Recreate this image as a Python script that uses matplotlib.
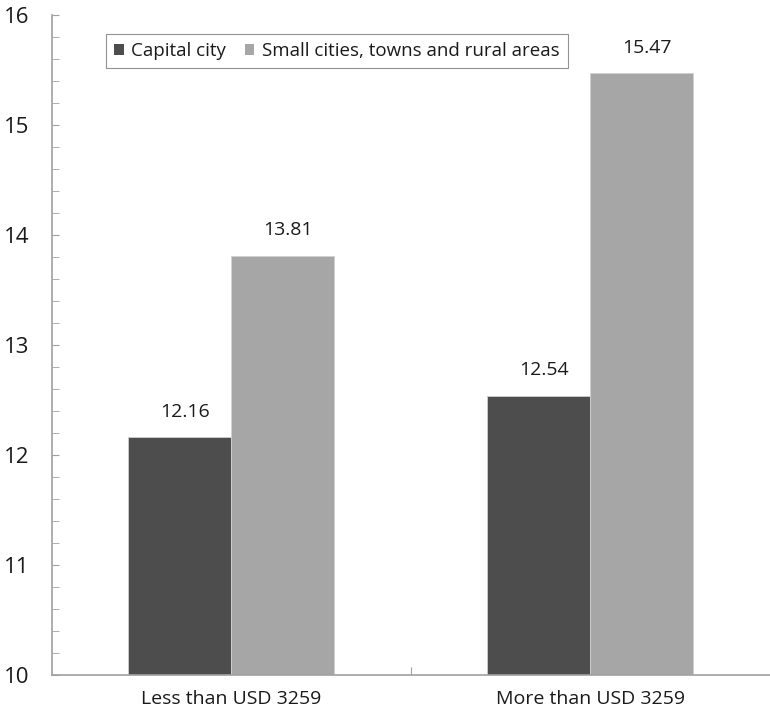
import matplotlib
matplotlib.use('Agg')
import matplotlib.pyplot as plt
from matplotlib.ticker import MultipleLocator, FixedLocator, NullFormatter

plt.rcParams['font.family'] = ['Open Sans', 'DejaVu Sans']

# Income groups and mean values by place of residence
groups = ['Less than USD 3259', 'More than USD 3259']
series_names = ['Capital city', 'Small cities, towns and rural areas']
capital = [12.16, 12.54]
small_towns = [13.81, 15.47]

colors = ['#4d4d4d', '#a6a6a6']
bar_w = 0.287
axis_grey = '#a0a0a0'
text_col = '#1a1a1a'

fig = plt.figure(figsize=(7.7, 7.2), dpi=100)
ax = fig.add_axes([0.0675, 0.0625, 0.932, 0.9165])

x = list(range(len(groups)))
for i, (vals, name) in enumerate(zip([capital, small_towns], series_names)):
    pos = [xi + (i - 0.5) * bar_w for xi in x]
    bars = ax.bar(pos, vals, width=bar_w, bottom=0, color=colors[i],
                  edgecolor='#d0d0d0', linewidth=0.6, label=name)
    for b, v in zip(bars, vals):
        ax.annotate(f'{v:.2f}', (b.get_x() + b.get_width() / 2 + 0.015, v),
                    xytext=(0, 12), textcoords='offset points',
                    ha='center', va='bottom', fontsize=14, color=text_col)

ax.set_ylim(10, 16)
ax.set_xlim(-0.5, 1.5)
ax.yaxis.set_major_locator(MultipleLocator(1))
ax.yaxis.set_minor_locator(MultipleLocator(0.2))
ax.tick_params(axis='y', which='both', direction='in', length=5,
               color=axis_grey, labelsize=16, pad=16, labelcolor=text_col)

# group labels sit under the bars, dividers between groups
ax.xaxis.set_major_locator(FixedLocator([0.5]))
ax.xaxis.set_major_formatter(NullFormatter())
ax.tick_params(axis='x', which='major', direction='in', length=6, color=axis_grey)
for xi, g in zip(x, groups):
    ax.text(xi, -0.022, g, transform=ax.get_xaxis_transform(),
            ha='center', va='top', fontsize=14, color=text_col)

for side in ['top', 'right']:
    ax.spines[side].set_visible(False)
for side in ['left', 'bottom']:
    ax.spines[side].set_color(axis_grey)
    ax.spines[side].set_linewidth(1.2)

leg = ax.legend(loc='upper left', bbox_to_anchor=(0.075, 0.972), ncol=2,
                fontsize=13.5, frameon=True, fancybox=False, edgecolor='#777777',
                handlelength=0.5, handleheight=0.5, handletextpad=0.4,
                columnspacing=1.0, borderpad=0.45, borderaxespad=0,
                labelcolor=text_col)
leg.get_frame().set_linewidth(0.8)
for h in leg.legend_handles:
    h.set_edgecolor('none')

fig.savefig('out.png', dpi=100)
